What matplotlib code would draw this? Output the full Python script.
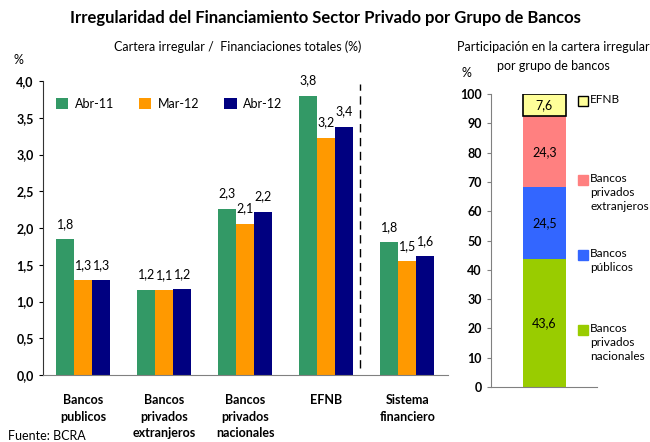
import numpy as np
import matplotlib
matplotlib.use("Agg")
import matplotlib.pyplot as plt

plt.rcParams['font.family'] = ['Lato', 'DejaVu Sans']

# Left chart: irregular portfolio / total financing (%)
grupos = ["Bancos\npublicos", "Bancos\nprivados\nextranjeros", "Bancos\nprivados\nnacionales",
          "EFNB", "Sistema\nfinanciero"]
series = ["Abr-11", "Mar-12", "Abr-12"]
abr11 = [1.85, 1.16, 2.26, 3.80, 1.81]
mar12 = [1.29, 1.15, 2.06, 3.23, 1.55]
abr12 = [1.29, 1.17, 2.22, 3.38, 1.62]
# labels as printed in the source (truncated, not rounded)
abr11_lbl = ["1,8", "1,2", "2,3", "3,8", "1,8"]
mar12_lbl = ["1,3", "1,1", "2,1", "3,2", "1,5"]
abr12_lbl = ["1,3", "1,2", "2,2", "3,4", "1,6"]
colores = ["#339966", "#FF9900", "#000080"]

# Right chart: share of irregular portfolio by bank group
part_labels = ["Bancos\nprivados\nnacionales", "Bancos\npúblicos",
               "Bancos\nprivados\nextranjeros", "EFNB"]
part_vals = [43.6, 24.5, 24.3, 7.6]
part_colors = ["#99CC00", "#3366FF", "#FF8080", "#FFFF99"]

fig = plt.figure(figsize=(6.5, 4.42), dpi=100, facecolor='w')

# ---- left axes
ax = fig.add_axes([0.066, 0.1516, 0.623, 0.665])
x = np.arange(len(grupos))
w = 0.222
for i, (vals, lbls, c, lab) in enumerate(zip([abr11, mar12, abr12],
                                             [abr11_lbl, mar12_lbl, abr12_lbl],
                                             colores, series)):
    bars = ax.bar(x + (i - 1) * w, vals, w, color=c, label=lab)
    for b, v, t in zip(bars, vals, lbls):
        ax.annotate(t, (b.get_x() + b.get_width() / 2, v),
                    xytext=(0, 11), textcoords="offset points", ha="center", va="center",
                    fontsize=9)

ax.set_xlim(-0.5, 4.5)
ax.set_ylim(0, 4.0)
yt = np.arange(0, 4.01, 0.5)
ax.set_yticks(yt)
ax.set_yticklabels([f"{t:.1f}".replace(".", ",") for t in yt], fontweight="bold", fontsize=9)
ax.set_xticks(x)
ax.set_xticklabels(grupos, fontweight="bold", fontsize=9, va="top", linespacing=1.45)
ax.tick_params(axis="x", length=0, pad=14)
ax.tick_params(axis="y", length=3, direction="out", width=0.8)
for s in ["top", "right"]:
    ax.spines[s].set_visible(False)
ax.spines["bottom"].set_color("#808080")
ax.spines["left"].set_color("#333333")
ax.axvline(3.41, ymin=0.025, ymax=0.99, color="black", linestyle=(0, (6, 4)), linewidth=1)

ax.legend(loc="upper left", bbox_to_anchor=(0.02, 0.96), ncol=3, frameon=False,
          fontsize=9, handlelength=1.0, handleheight=1.0, columnspacing=2.0,
          handletextpad=0.5, borderaxespad=0)

# ---- right axes
ax2 = fig.add_axes([0.755, 0.1244, 0.163, 0.6629])
bottom = 0
for v, c in zip(part_vals, part_colors):
    ec = "black" if c == "#FFFF99" else "none"
    ax2.bar(0.505, v, 0.405, bottom=bottom, color=c, edgecolor=ec, linewidth=1.2)
    ax2.text(0.505, bottom + v / 2, f"{v:.1f}".replace(".", ","), ha="center",
             va="center", fontsize=9)
    bottom += v
ax2.set_xlim(0, 1)
ax2.set_ylim(0, 100)
ax2.set_yticks(np.arange(0, 101, 10))
ax2.set_yticklabels([str(t) for t in range(0, 101, 10)], fontweight="bold", fontsize=9)
ax2.set_xticks([])
ax2.tick_params(axis="y", length=3, direction="out", width=0.8, color="#808080")
for s in ["top", "right"]:
    ax2.spines[s].set_visible(False)
ax2.spines["bottom"].set_color("#808080")
ax2.spines["left"].set_color("#808080")

# legend for the stacked bar, placed beside the bar
leg_y = [19.5, 45.0, 70.6, 97.6]
for lab, c, yy in zip(part_labels, part_colors, leg_y):
    ec = "black" if c == "#FFFF99" else c
    ax2.plot([0.868], [yy], marker="s", markersize=7, color=c, markeredgecolor=ec,
             markeredgewidth=1, clip_on=False)
    ax2.text(0.94, yy + 2.3, lab, ha="left", va="top", fontsize=8.5, linespacing=1.3,
             clip_on=False)

# ---- texts
fig.text(0.5, 0.96, "Irregularidad del Financiamiento Sector Privado por Grupo de Bancos",
         ha="center", va="center", fontsize=12, fontweight="bold")
fig.text(0.366, 0.894, "Cartera irregular /  Financiaciones totales (%)", ha="center",
         va="center", fontsize=9)
fig.text(0.851, 0.894, "Participación en la cartera irregular", ha="center",
         va="center", fontsize=9)
fig.text(0.851, 0.851, "por grupo de bancos", ha="center", va="center", fontsize=9)
fig.text(0.028, 0.864, "%", ha="center", va="center", fontsize=9)
fig.text(0.717, 0.835, "%", ha="center", va="center", fontsize=9)
fig.text(0.012, 0.013, "Fuente: BCRA", ha="left", va="center", fontsize=9)

plt.savefig("out.png", dpi=100)
